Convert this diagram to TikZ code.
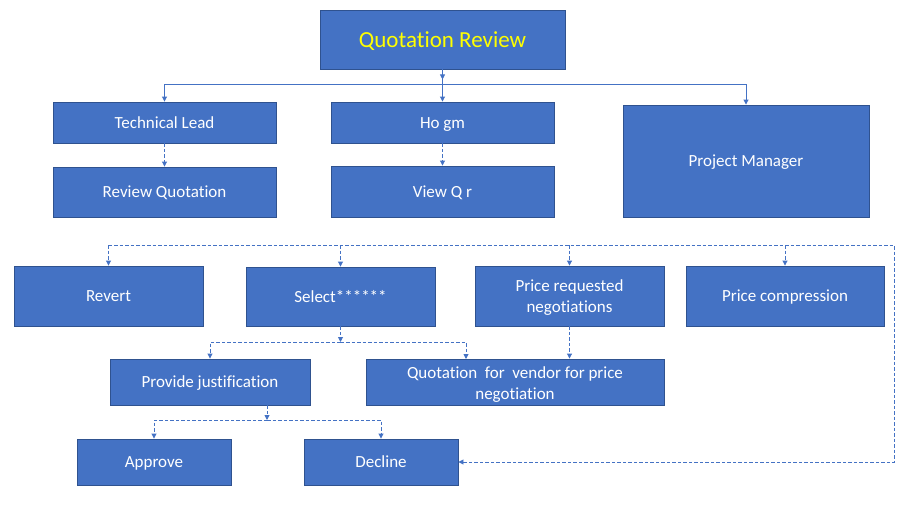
\documentclass[tikz,border=0pt]{standalone}
\usepackage{fontspec}
\setmainfont{Carlito}[Ligatures=NoCommon]
\usetikzlibrary{arrows.meta}
\definecolor{boxfill}{HTML}{4472C4}
\definecolor{boxline}{HTML}{2F528F}
\definecolor{linec}{HTML}{4472C4}
\definecolor{titley}{HTML}{FFFF00}
\tikzset{
  box/.style={draw=boxline, line width=0.9pt, fill=boxfill, text=white, inner sep=1pt, align=center,
    font=\fontsize{17}{21}\selectfont},
  onel/.style={box, text height=12pt, text depth=1pt},
  conn/.style={draw=linec, line width=0.9pt, -{Triangle[length=5pt,width=5pt]}},
  plain/.style={draw=linec, line width=0.9pt},
  dconn/.style={conn, dash pattern=on 3.5pt off 2pt},
  dplain/.style={plain, dash pattern=on 3.5pt off 2pt}
}
\begin{document}
\begin{tikzpicture}[x=1pt,y=-1pt]
\useasboundingbox (0,0) rectangle (908,509);
\node[box, minimum width=245pt, minimum height=59pt, text=titley, font=\fontsize{23}{27}\selectfont, text height=16pt, text depth=1pt] (QR) at (442.5,39.5) {Quotation Review};
\node[onel, minimum width=223pt, minimum height=41pt] (TL) at (164.5,122.5) {Technical Lead};
\node[onel, minimum width=223pt, minimum height=41pt] (HG) at (442.5,122.5) {Ho gm};
\node[onel, minimum width=246pt, minimum height=112pt] (PM) at (746,161) {Project Manager};
\node[onel, minimum width=223pt, minimum height=50pt] (RQ) at (164.5,192) {Review Quotation};
\node[onel, minimum width=223pt, minimum height=51pt] (VQ) at (442.5,191.5) {View Q r};
\node[onel, minimum width=189pt, minimum height=60pt] (RV) at (108.5,296) {Revert};
\node[onel, minimum width=189pt, minimum height=59pt] (SL) at (340.5,296.5) {Select******};
\node[box, minimum width=189pt, minimum height=60pt] (PR) at (569.5,296) {\rule{0pt}{15pt}Price requested\\negotiations};
\node[onel, minimum width=198pt, minimum height=60pt] (PC) at (785,296) {Price compression};
\node[onel, minimum width=200pt, minimum height=46pt] (PJ) at (210,382) {Provide justification};
\node[box, minimum width=298pt, minimum height=46pt] (QV) at (515,382) {\rule{0pt}{17pt}Quotation\ \ for\ \ vendor for price\\negotiation};
\node[onel, minimum width=154pt, minimum height=46pt] (AP) at (154,462) {Approve};
\node[onel, minimum width=154pt, minimum height=46pt] (DC) at (381,462) {Decline};

% top tree
\coordinate (j1) at (442.5,84);
\draw[conn] (QR.south) -- ++(0,10);
\draw[plain] (QR.south) -- (j1);
\draw[conn] (j1) -| (TL.north);
\draw[conn] (j1) -| (PM.north);
\draw[conn] (j1) -- (HG.north);
\draw[dconn] (TL.south) -- (RQ.north);
\draw[dconn] (HG.south) -- (VQ.north);

% dashed bus
\coordinate (bl) at (108.5,245);
\coordinate (br) at (894,245);
\draw[dconn] (bl) -- (RV.north);
\draw[dconn] (bl) -- (br) -- (br |- DC.east) -- (DC.east);
\draw[dconn] (SL.north |- bl) -- (SL.north);
\draw[dconn] (PR.north |- bl) -- (PR.north);
\draw[dconn] (PC.north |- bl) -- (PC.north);

% select branch
\coordinate (s) at (340.5,342);
\coordinate (q1) at (466,359);
\draw[dconn] (SL.south) -- (s);
\draw[dconn] (s) -| (PJ.north);
\draw[dconn] (s) -| (q1);
\draw[dconn] (PR.south) -- (PR.south |- QV.north);

% justification branch
\coordinate (p) at (267,420);
\draw[dconn] (PJ.south -| p) -- (p);
\draw[dconn] (p) -| (AP.north);
\draw[dconn] (p) -| (DC.north);
\end{tikzpicture}
\end{document}
